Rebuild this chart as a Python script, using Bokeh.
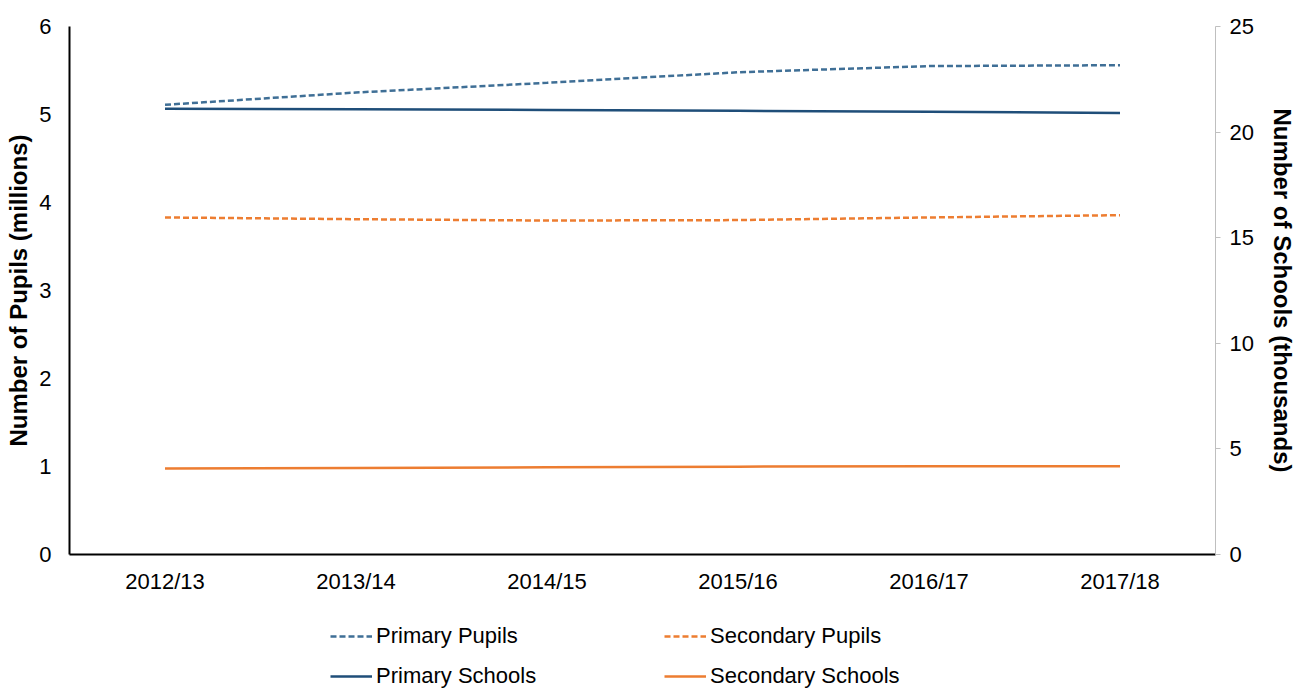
from bokeh.plotting import figure
from bokeh.layouts import column
from bokeh.models import Range1d, LinearAxis, Legend, LegendItem, FixedTicker
from bokeh.embed import file_html
from bokeh.resources import INLINE

years = ["2012/13", "2013/14", "2014/15", "2015/16", "2016/17", "2017/18"]
primary_pupils = [5.11, 5.25, 5.36, 5.48, 5.55, 5.56]        # millions (left axis)
secondary_pupils = [3.83, 3.81, 3.795, 3.80, 3.83, 3.856]    # millions (left axis)
primary_schools = [21.10, 21.08, 21.05, 21.01, 20.96, 20.91]  # thousands (right axis)
secondary_schools = [4.07, 4.10, 4.13, 4.16, 4.18, 4.18]      # thousands (right axis)
left_ticks = [0, 1, 2, 3, 4, 5, 6]
right_ticks = [0, 5, 10, 15, 20, 25]

FONT = "Liberation Sans"
FS = "22px"
TFS = "24px"
BLUE_SOLID = "#1F4E79"
BLUE_DASH = "#3F6F96"
ORANGE = "#ED7D31"

p = figure(x_range=years, y_range=Range1d(0, 6),
           frame_width=1146, frame_height=528, width=None, height=None,
           output_backend="svg", toolbar_location=None,
           min_border_left=69, min_border_right=81, min_border_top=26, min_border_bottom=48)
p.extra_y_ranges = {"schools": Range1d(0, 25)}
p.outline_line_color = None
p.xgrid.grid_line_color = None
p.ygrid.grid_line_color = None


def style_ticks(ax):
    ax.major_label_text_font = FONT
    ax.major_label_text_font_size = FS
    ax.major_label_text_color = "#000000"
    ax.minor_tick_line_color = None


def style_title(ax, text):
    ax.axis_label = text
    ax.axis_label_text_font = FONT
    ax.axis_label_text_font_size = TFS
    ax.axis_label_text_font_style = "bold"
    ax.axis_label_text_color = "#000000"


# left axis
ya = p.yaxis[0]
ya.ticker = FixedTicker(ticks=left_ticks)
ya.axis_line_color = "black"
ya.axis_line_width = 2
ya.major_tick_line_color = None
ya.major_tick_in = 0
ya.major_tick_out = 0
ya.major_label_standoff = 18
style_ticks(ya)
style_title(ya, "Number of Pupils (millions)")
ya.axis_label_standoff = 4

# bottom axis
xa = p.xaxis[0]
xa.axis_line_color = "black"
xa.axis_line_width = 2
xa.major_tick_line_color = None
xa.major_tick_in = 0
xa.major_tick_out = 0
xa.major_label_standoff = 14
style_ticks(xa)

# right axis
ra = LinearAxis(y_range_name="schools", ticker=FixedTicker(ticks=right_ticks))
ra.axis_line_color = "#BFBFBF"
ra.axis_line_width = 1
ra.major_tick_line_color = "#BFBFBF"
ra.major_tick_in = 0
ra.major_tick_out = 5
ra.major_label_standoff = 9
style_ticks(ra)
style_title(ra, "Number of Schools (thousands)")
ra.axis_label_standoff = 12
p.add_layout(ra, "right")

p.line(years, primary_pupils, line_color=BLUE_DASH, line_width=2.5, line_dash="6 3")
p.line(years, secondary_pupils, line_color=ORANGE, line_width=2.5, line_dash="6 3")
p.line(years, primary_schools, line_color=BLUE_SOLID, line_width=2.5, y_range_name="schools")
p.line(years, secondary_schools, line_color=ORANGE, line_width=2.5, y_range_name="schools")

# legend strip below the chart (its sample lines use the same series, kept out of view)
lg = figure(width=1296, height=87, x_range=years, y_range=Range1d(100, 101),
            x_axis_type=None, y_axis_type=None, output_backend="svg",
            toolbar_location=None, min_border=0)
lg.outline_line_color = None
k_pp = lg.line(years, primary_pupils, line_color=BLUE_DASH, line_width=2.5, line_dash="6 3")
k_sp = lg.line(years, secondary_pupils, line_color=ORANGE, line_width=2.5, line_dash="6 3")
k_ps = lg.line(years, primary_schools, line_color=BLUE_SOLID, line_width=2.5)
k_ss = lg.line(years, secondary_schools, line_color=ORANGE, line_width=2.5)


def row_legend(items, vy):
    return Legend(items=items, orientation="horizontal", location=(261, vy),
                  glyph_width=42, glyph_height=22, label_height=22, label_width=244,
                  label_standoff=4, spacing=44, padding=0, margin=0,
                  border_line_color=None, background_fill_alpha=0,
                  label_text_font=FONT, label_text_font_size=FS, label_text_color="#000000")


lg.add_layout(row_legend([LegendItem(label="Primary Pupils", renderers=[k_pp]),
                          LegendItem(label="Secondary Pupils", renderers=[k_sp])], 40), "center")
lg.add_layout(row_legend([LegendItem(label="Primary Schools", renderers=[k_ps]),
                          LegendItem(label="Secondary Schools", renderers=[k_ss])], 0), "center")

layout = column(p, lg, spacing=0)
open("out.html", "w").write(file_html(layout, INLINE))
